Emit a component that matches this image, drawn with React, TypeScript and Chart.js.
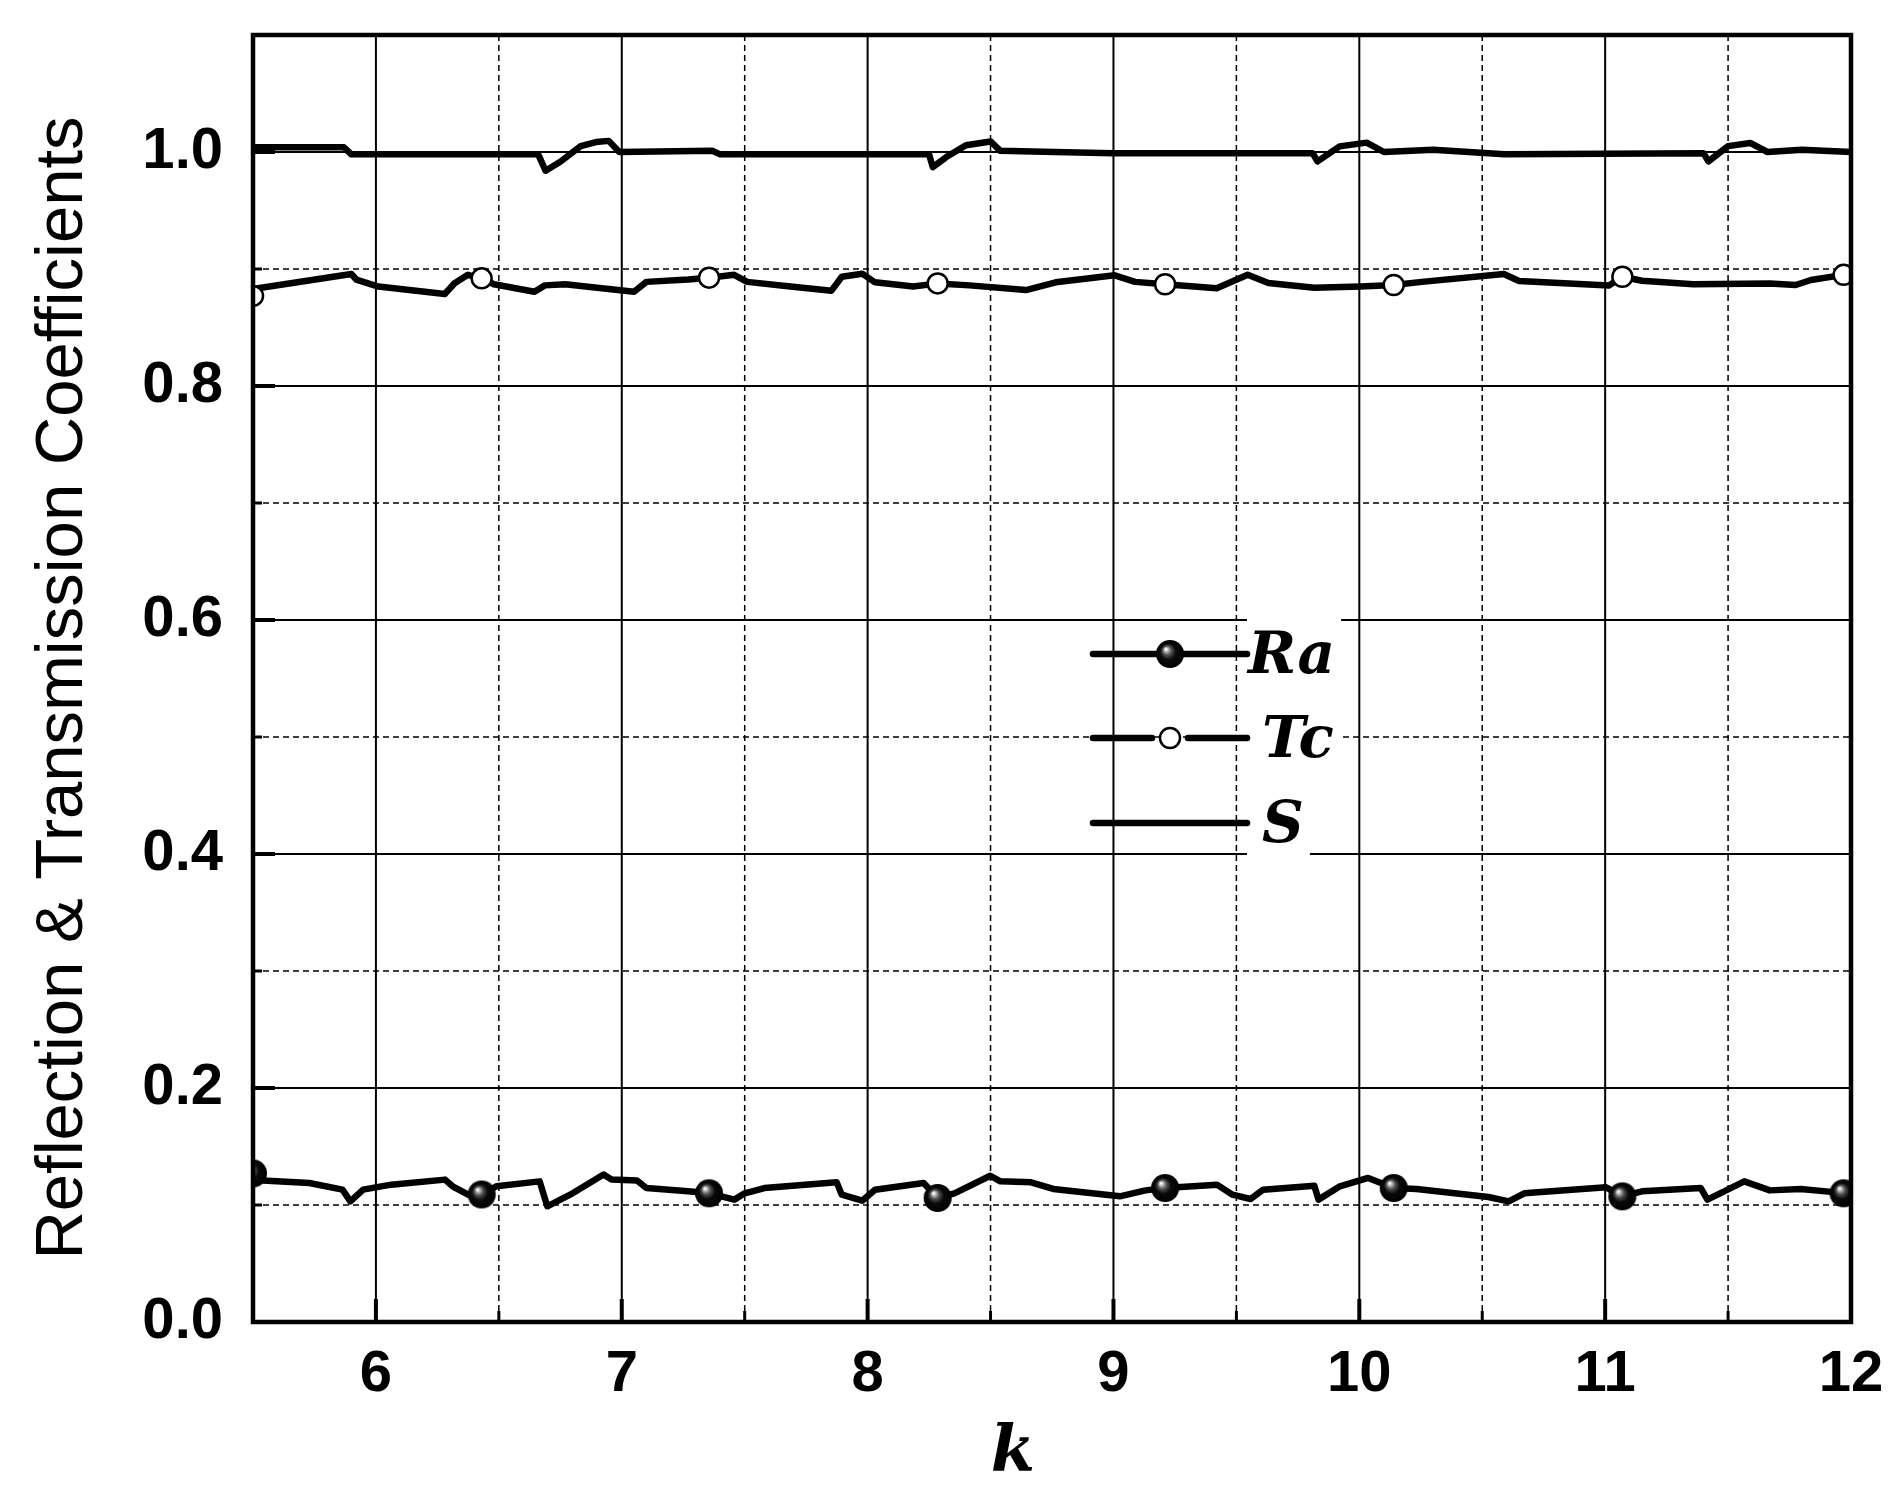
import { useEffect, useRef } from "react";
import { Chart, registerables } from "chart.js";

Chart.register(...registerables);

// Ra curve (reflection)
const raK = [5.5, 5.54, 5.729, 5.864, 5.896, 5.948, 6.062, 6.281, 6.312, 6.375, 6.43, 6.49, 6.666, 6.697, 6.79, 6.926, 6.958, 7.062, 7.1, 7.27, 7.355, 7.458, 7.5, 7.58, 7.874, 7.895, 7.978, 8.03, 8.228, 8.285, 8.353, 8.499, 8.54, 8.665, 8.755, 9.026, 9.13, 9.21, 9.421, 9.484, 9.557, 9.609, 9.817, 9.834, 9.921, 10.036, 10.14, 10.233, 10.525, 10.608, 10.671, 11.004, 11.07, 11.15, 11.389, 11.416, 11.566, 11.67, 11.795, 11.93, 11.97, 12.0];
const raV = [0.127, 0.121, 0.1188, 0.1131, 0.1031, 0.1131, 0.1174, 0.1217, 0.116, 0.1088, 0.109, 0.116, 0.1202, 0.0989, 0.1088, 0.126, 0.1217, 0.121, 0.1145, 0.1117, 0.11, 0.1046, 0.11, 0.1145, 0.1194, 0.1088, 0.1037, 0.1131, 0.1188, 0.106, 0.11, 0.125, 0.1202, 0.1194, 0.1137, 0.1074, 0.1125, 0.1145, 0.1174, 0.1088, 0.1051, 0.1131, 0.1165, 0.1046, 0.116, 0.1231, 0.1145, 0.1137, 0.1068, 0.1031, 0.11, 0.1151, 0.1074, 0.1117, 0.1145, 0.1046, 0.1202, 0.1125, 0.1137, 0.111, 0.11, 0.109];

// Tc curve (transmission)
const tcK = [5.5, 5.52, 5.9, 5.92, 6.01, 6.28, 6.32, 6.374, 6.43, 6.48, 6.645, 6.687, 6.77, 6.853, 7.05, 7.1, 7.27, 7.355, 7.457, 7.51, 7.686, 7.853, 7.895, 7.978, 8.03, 8.186, 8.285, 8.415, 8.644, 8.765, 9.005, 9.088, 9.21, 9.42, 9.546, 9.63, 9.817, 10.005, 10.14, 10.254, 10.588, 10.65, 11.015, 11.07, 11.15, 11.358, 11.67, 11.775, 11.837, 11.97, 12.0];
const tcV = [0.877, 0.8835, 0.8957, 0.891, 0.885, 0.8786, 0.8878, 0.895, 0.892, 0.887, 0.8806, 0.886, 0.887, 0.885, 0.8806, 0.889, 0.891, 0.8926, 0.895, 0.889, 0.885, 0.8815, 0.8934, 0.896, 0.8886, 0.885, 0.8877, 0.886, 0.882, 0.8886, 0.8946, 0.889, 0.887, 0.8835, 0.895, 0.888, 0.884, 0.885, 0.8863, 0.889, 0.8957, 0.8897, 0.8858, 0.8934, 0.89, 0.887, 0.8877, 0.8863, 0.8906, 0.895, 0.895];

// S curve (sum)
const sK = [5.5, 5.87, 5.9, 6.66, 6.69, 6.75, 6.833, 6.895, 6.947, 6.99, 7.37, 7.4, 8.25, 8.265, 8.32, 8.4, 8.5, 8.54, 8.76, 9.0, 9.81, 9.83, 9.92, 10.03, 10.1, 10.3, 10.59, 11.4, 11.42, 11.5, 11.59, 11.66, 11.8, 12.0];
const sV = [1.004, 1.004, 0.998, 0.998, 0.984, 0.9917, 1.005, 1.0085, 1.0095, 1.0, 1.001, 0.998, 0.998, 0.987, 0.9957, 1.0057, 1.009, 1.001, 1.0, 0.999, 0.999, 0.992, 1.0048, 1.008, 1.0, 1.002, 0.998, 0.999, 0.992, 1.005, 1.0077, 1.0, 1.002, 1.0];

// k positions carrying symbols on Ra and Tc
const markerK = [5.5, 6.43, 7.355, 8.285, 9.21, 10.14, 11.07, 11.97];

const xTicks = [6, 7, 8, 9, 10, 11, 12];
const xMinor = [6.5, 7.5, 8.5, 9.5, 10.5, 11.5];
const yTicks = [0, 0.2, 0.4, 0.6, 0.8, 1.0];
const yMinor = [0.1, 0.3, 0.5, 0.7, 0.9];

const legendNames = ["Ra", "Tc", "S"];
const yTitle = "Reflection & Transmission Coefficients";
const xTitle = "k";

const sans = "'Liberation Sans', Arial, sans-serif";
const serif = "'DejaVu Serif', 'Liberation Serif', serif";

function makeSphere(r: number) {
  const c = document.createElement("canvas");
  const s = Math.ceil(r * 2 + 2);
  c.width = s;
  c.height = s;
  const g = c.getContext("2d")!;
  const m = s / 2;
  const grad = g.createRadialGradient(m - r * 0.3, m - r * 0.35, 0.5, m, m, r);
  grad.addColorStop(0, "#ffffff");
  grad.addColorStop(0.12, "#b8b8b8");
  grad.addColorStop(0.3, "#505050");
  grad.addColorStop(0.55, "#0a0a0a");
  grad.addColorStop(1, "#000000");
  g.fillStyle = grad;
  g.beginPath();
  g.arc(m, m, r, 0, Math.PI * 2);
  g.fill();
  return c;
}

const isMarker = (x: number) => markerK.some((m) => Math.abs(m - x) < 1e-6);

export default function App() {
  const canvasRef = useRef<HTMLCanvasElement | null>(null);

  useEffect(() => {
    document.body.style.margin = "0";
    const canvas = canvasRef.current;
    if (!canvas) return;
    const sphere = makeSphere(14);

    const line = (ctx: CanvasRenderingContext2D, x1: number, y1: number, x2: number, y2: number) => {
      ctx.beginPath();
      ctx.moveTo(x1, y1);
      ctx.lineTo(x2, y2);
      ctx.stroke();
    };

    const framePlugin = {
      id: "frame",
      beforeDatasetsDraw(chart: any) {
        const { ctx, chartArea: a, scales } = chart;
        const xs = scales.x;
        const ys = scales.y;
        ctx.save();
        ctx.strokeStyle = "#000";
        ctx.lineWidth = 2;
        xTicks.forEach((v) => {
          const p = xs.getPixelForValue(v);
          line(ctx, p, a.top, p, a.bottom);
        });
        yTicks.forEach((v) => {
          const p = ys.getPixelForValue(v);
          line(ctx, a.left, p, a.right, p);
        });
        ctx.lineWidth = 1.5;
        ctx.setLineDash([6, 4]);
        xMinor.forEach((v) => {
          const p = xs.getPixelForValue(v);
          line(ctx, p, a.top, p, a.bottom);
        });
        yMinor.forEach((v) => {
          const p = ys.getPixelForValue(v);
          line(ctx, a.left, p, a.right, p);
        });
        ctx.restore();
      },
      afterDatasetsDraw(chart: any) {
        const { ctx, chartArea: a, scales } = chart;
        const xs = scales.x;
        const ys = scales.y;
        ctx.save();
        // legend
        const rowsY = [654, 738, 823];
        const textX = [1248, 1262, 1262];
        const baseY = [673, 757, 842];
        ctx.font = `italic bold 58px ${serif}`;
        legendNames.forEach((name, i) => {
          const w = ctx.measureText(name).width;
          ctx.fillStyle = "#fff";
          ctx.fillRect(1247, baseY[i] - 57, textX[i] + w + 6 - 1247, 80);
        });
        ctx.strokeStyle = "#000";
        ctx.lineWidth = 6.5;
        ctx.lineCap = "round";
        line(ctx, 1093, rowsY[0], 1247, rowsY[0]);
        line(ctx, 1093, rowsY[1], 1152, rowsY[1]);
        line(ctx, 1188, rowsY[1], 1247, rowsY[1]);
        line(ctx, 1093, rowsY[2], 1247, rowsY[2]);
        ctx.drawImage(sphere, 1170 - sphere.width / 2, rowsY[0] - sphere.height / 2);
        ctx.lineWidth = 2.5;
        ctx.fillStyle = "#fff";
        ctx.beginPath();
        ctx.arc(1170, rowsY[1], 10, 0, Math.PI * 2);
        ctx.fill();
        ctx.stroke();
        ctx.fillStyle = "#000";
        ctx.textBaseline = "alphabetic";
        ctx.textAlign = "left";
        legendNames.forEach((name, i) => ctx.fillText(name, textX[i], baseY[i]));

        // ticks (inward)
        ctx.lineCap = "butt";
        ctx.lineWidth = 4;
        xTicks.forEach((v) => {
          const p = xs.getPixelForValue(v);
          line(ctx, p, a.bottom, p, a.bottom - 23);
        });
        yTicks.forEach((v) => {
          const p = ys.getPixelForValue(v);
          line(ctx, a.left, p, a.left + 22, p);
        });
        ctx.lineWidth = 3;
        xMinor.forEach((v) => {
          const p = xs.getPixelForValue(v);
          line(ctx, p, a.bottom, p, a.bottom - 11);
        });
        yMinor.forEach((v) => {
          const p = ys.getPixelForValue(v);
          line(ctx, a.left, p, a.left + 9, p);
        });
        // frame
        ctx.lineWidth = 4.5;
        ctx.strokeRect(a.left, a.top, a.right - a.left, a.bottom - a.top);
        ctx.restore();
      },
      afterDraw(chart: any) {
        const { ctx } = chart;
        ctx.save();
        ctx.fillStyle = "#000";
        ctx.textAlign = "center";
        ctx.textBaseline = "alphabetic";
        ctx.font = `67px ${sans}`;
        ctx.translate(82, 688);
        ctx.rotate(-Math.PI / 2);
        ctx.fillText(yTitle, 0, 0);
        ctx.restore();
        ctx.save();
        ctx.fillStyle = "#000";
        ctx.textAlign = "center";
        ctx.textBaseline = "alphabetic";
        ctx.font = `italic bold 64px ${serif}`;
        ctx.fillText(xTitle, 1013, 1470);
        ctx.restore();
      },
    };

    const pts = (ks: number[], vs: number[]) => ks.map((k, i) => ({ x: k, y: vs[i] }));

    const chart = new Chart(canvas, {
      type: "line",
      data: {
        datasets: [
          {
            label: "S",
            data: pts(sK, sV),
            borderColor: "#000",
            borderWidth: 6.5,
            pointRadius: 0,
            tension: 0,
            borderJoinStyle: "round",
            clip: 2,
          },
          {
            label: "Tc",
            data: pts(tcK, tcV),
            borderColor: "#000",
            borderWidth: 6.5,
            backgroundColor: "#fff",
            pointBackgroundColor: "#fff",
            pointBorderColor: "#000",
            pointBorderWidth: 2.5,
            pointRadius: (c: any) => (c.raw && isMarker(c.raw.x) ? 10 : 0),
            tension: 0,
            borderJoinStyle: "round",
            clip: 2,
          },
          {
            label: "Ra",
            data: pts(raK, raV),
            borderColor: "#000",
            borderWidth: 6.5,
            pointStyle: sphere,
            pointRadius: (c: any) => (c.raw && isMarker(c.raw.x) ? 14 : 0),
            tension: 0,
            borderJoinStyle: "round",
            clip: 2,
          },
        ] as any,
      },
      options: {
        responsive: false,
        devicePixelRatio: 1,
        animation: false,
        layout: { padding: { left: 0, top: 35, right: 52, bottom: 0 } },
        plugins: { legend: { display: false }, tooltip: { enabled: false } },
        scales: {
          x: {
            type: "linear",
            min: 5.5,
            max: 12,
            grid: { display: false, drawTicks: false },
            border: { display: false },
            afterBuildTicks: (s: any) => {
              s.ticks = xTicks.map((v) => ({ value: v }));
            },
            afterFit: (s: any) => {
              s.height = 182;
              s.paddingLeft = 0;
              s.paddingRight = 0;
              s.paddingTop = 0;
              s.paddingBottom = 0;
            },
            ticks: {
              padding: 18,
              color: "#000",
              maxRotation: 0,
              font: { family: sans, size: 58, weight: "bold" },
              callback: (v: any) => String(v),
            },
          },
          y: {
            type: "linear",
            min: 0,
            max: 1.1,
            grid: { display: false, drawTicks: false },
            border: { display: false },
            afterBuildTicks: (s: any) => {
              s.ticks = yTicks.map((v) => ({ value: v }));
            },
            afterFit: (s: any) => {
              s.width = 253;
              s.paddingLeft = 0;
              s.paddingRight = 0;
              s.paddingTop = 0;
              s.paddingBottom = 0;
            },
            ticks: {
              padding: 30,
              color: "#000",
              font: { family: sans, size: 58, weight: "bold" },
              callback: (v: any) => Number(v).toFixed(1),
            },
          },
        },
      } as any,
      plugins: [framePlugin],
    });

    return () => chart.destroy();
  }, []);

  return (
    <div style={{ width: 1903, height: 1504, background: "#fff" }}>
      <canvas ref={canvasRef} width={1903} height={1504} style={{ display: "block" }} />
    </div>
  );
}
